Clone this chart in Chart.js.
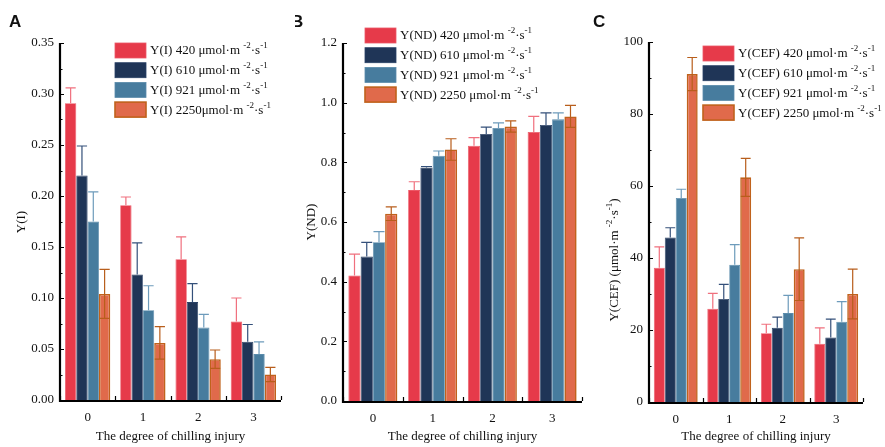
<!DOCTYPE html>
<html>
<head>
<meta charset="utf-8">
<script src="https://cdn.jsdelivr.net/npm/chart.js@4.4.1/dist/chart.umd.min.js"></script>
<style>
    body { margin: 0; background: #fff; width: 885px; height: 447px; position: relative; overflow: hidden; }
    .panel { position: absolute; top: 0; height: 447px; }
</style>
</head>
<body>
<div class="panel" style="left:0;width:295px"><canvas id="chartA" width="295" height="447"></canvas></div>
<div class="panel" style="left:295px;width:295px"><canvas id="chartB" width="295" height="447"></canvas></div>
<div class="panel" style="left:590px;width:295px"><canvas id="chartC" width="295" height="447"></canvas></div>
<script>
// ============================================
// Data
// ============================================
const categories = ['0', '1', '2', '3'];
const lightLevels = ['420', '610', '921', '2250'];

// Panel A - Y(I)
const yiMean420 = [0.291, 0.191, 0.138, 0.077];
const yiMean610 = [0.220, 0.123, 0.096, 0.057];
const yiMean921 = [0.175, 0.088, 0.071, 0.045];
const yiMean2250 = [0.104, 0.056, 0.040, 0.025];
const yiErr420 = [0.015, 0.008, 0.022, 0.023];
const yiErr610 = [0.029, 0.031, 0.018, 0.017];
const yiErr921 = [0.029, 0.024, 0.013, 0.012];
const yiErr2250 = [0.024, 0.016, 0.009, 0.007];
const yiTicks = [0, 0.05, 0.10, 0.15, 0.20, 0.25, 0.30, 0.35];

// Panel B - Y(ND)
const yndMean420 = [0.421, 0.707, 0.856, 0.902];
const yndMean610 = [0.484, 0.783, 0.895, 0.925];
const yndMean921 = [0.532, 0.822, 0.915, 0.944];
const yndMean2250 = [0.628, 0.843, 0.920, 0.954];
const yndErr420 = [0.071, 0.028, 0.027, 0.052];
const yndErr610 = [0.048, 0.003, 0.023, 0.041];
const yndErr921 = [0.036, 0.016, 0.017, 0.022];
const yndErr2250 = [0.023, 0.036, 0.019, 0.037];
const yndTicks = [0, 0.2, 0.4, 0.6, 0.8, 1.0, 1.2];

// Panel C - Y(CEF)
const ycefMean420 = [37.3, 25.9, 19.1, 16.2];
const ycefMean610 = [45.7, 28.6, 20.6, 17.9];
const ycefMean921 = [56.7, 38.1, 24.7, 22.3];
const ycefMean2250 = [91.1, 62.4, 36.9, 30.0];
const ycefErr420 = [5.8, 4.3, 2.5, 4.4];
const ycefErr610 = [2.7, 4.1, 3.0, 5.1];
const ycefErr921 = [2.4, 5.6, 4.9, 5.6];
const ycefErr2250 = [4.6, 5.3, 8.7, 6.9];
const ycefTicks = [0, 20, 40, 60, 80, 100];

// Legend texts (superscripts are drawn separately)
const legendA = ['Y(I) 420 \u03bcmol\u00b7m ', 'Y(I) 610 \u03bcmol\u00b7m ', 'Y(I) 921 \u03bcmol\u00b7m ', 'Y(I) 2250\u03bcmol\u00b7m '];
const legendB = ['Y(ND) 420 \u03bcmol\u00b7m ', 'Y(ND) 610 \u03bcmol\u00b7m ', 'Y(ND) 921 \u03bcmol\u00b7m ', 'Y(ND) 2250 \u03bcmol\u00b7m '];
const legendC = ['Y(CEF) 420 \u03bcmol\u00b7m ', 'Y(CEF) 610 \u03bcmol\u00b7m ', 'Y(CEF) 921 \u03bcmol\u00b7m ', 'Y(CEF) 2250 \u03bcmol\u00b7m '];

// ============================================
// Styles
// ============================================
const fillColors = ['#e63a4a', '#1f3557', '#477c9e', '#e06a4b'];
const edgeColors = ['#ec5866', '#2a4266', '#5a8bab', '#c0621c'];
const edgeWidths = [0.8, 0.8, 0.8, 1.6];
const errColors = ['#f0707e', '#34507a', '#6d9bbb', '#b85e1c'];
const serif = 'Liberation Serif';
const textColor = '#111';

function drawRich(ctx, parts, x, y, size) {
    // parts: [text, sup, text, sup, ...]
    let cx = x;
    parts.forEach((p, i) => {
        const isSup = i % 2 === 1;
        ctx.font = (isSup ? Math.round(size * 0.68) : size) + 'px "' + serif + '"';
        ctx.fillText(p, cx, isSup ? y - size * 0.38 : y);
        cx += ctx.measureText(p).width;
    });
    return cx - x;
}

function richWidth(ctx, parts, size) {
    let w = 0;
    parts.forEach((p, i) => {
        const isSup = i % 2 === 1;
        ctx.font = (isSup ? Math.round(size * 0.68) : size) + 'px "' + serif + '"';
        w += ctx.measureText(p).width;
    });
    return w;
}

// Error bars drawn through the y scale
const errorBarPlugin = {
    id: 'errorBars',
    afterDatasetsDraw(chart) {
        const ctx = chart.ctx;
        const yScale = chart.scales.y;
        chart.data.datasets.forEach((ds, i) => {
            const meta = chart.getDatasetMeta(i);
            meta.data.forEach((bar, j) => {
                const v = ds.data[j];
                const e = ds.errors[j];
                const yTop = yScale.getPixelForValue(v + e);
                const yLow = yScale.getPixelForValue(v - e);
                const half = bar.width * 0.45;
                ctx.save();
                ctx.strokeStyle = ds.errorColor;
                ctx.lineWidth = 1.2;
                ctx.beginPath();
                ctx.moveTo(bar.x, ds.errorBoth ? yLow : bar.y);
                ctx.lineTo(bar.x, yTop);
                ctx.moveTo(bar.x - half, yTop);
                ctx.lineTo(bar.x + half, yTop);
                if (ds.errorBoth) {
                    ctx.moveTo(bar.x - half, yLow);
                    ctx.lineTo(bar.x + half, yLow);
                }
                ctx.stroke();
                ctx.restore();
            });
        });
    }
};

// Axes lines, inward ticks, titles, panel letter, legend
const decoPlugin = {
    id: 'deco',
    afterDraw(chart, args, opts) {
        const ctx = chart.ctx;
        const area = chart.chartArea;
        const yScale = chart.scales.y;
        const xScale = chart.scales.x;
        ctx.save();
        ctx.strokeStyle = '#000';
        ctx.lineWidth = 1.2;
        // y ticks (major + minor), inward
        const vals = yScale.ticks.map(t => t.value);
        ctx.beginPath();
        vals.forEach((v, k) => {
            const py = Math.round(yScale.getPixelForValue(v)) + 0.5;
            ctx.moveTo(area.left, py); ctx.lineTo(area.left + 4, py);
            if (k < vals.length - 1) {
                const pm = Math.round(yScale.getPixelForValue((v + vals[k + 1]) / 2)) + 0.5;
                ctx.moveTo(area.left, pm); ctx.lineTo(area.left + 2.5, pm);
            }
        });
        // x ticks at category boundaries
        for (let k = 0; k <= categories.length; k++) {
            const px = Math.round(xScale.getPixelForValue(k - 0.5)) + 0.5;
            ctx.moveTo(px, area.bottom); ctx.lineTo(px, area.bottom - 4);
        }
        ctx.stroke();
        // axis lines
        ctx.lineWidth = 2.2;
        ctx.beginPath();
        ctx.moveTo(area.left, area.top);
        ctx.lineTo(area.left, area.bottom + 1);
        ctx.lineTo(area.right, area.bottom + 1);
        ctx.stroke();

        ctx.fillStyle = textColor;
        ctx.textBaseline = 'middle';
        // x title
        ctx.textAlign = 'center';
        ctx.font = '13px "' + serif + '"';
        ctx.fillText('The degree of chilling injury', (area.left + area.right) / 2, 437);
        // y title (rotated)
        ctx.save();
        ctx.translate(opts.yTitleX, opts.yTitleY);
        ctx.rotate(-Math.PI / 2);
        ctx.textAlign = 'left';
        const w = richWidth(ctx, opts.yTitle, 13);
        drawRich(ctx, opts.yTitle, -w / 2, 0, 13);
        ctx.restore();
        // panel letter
        ctx.textAlign = 'left';
        ctx.font = 'bold 17px "Liberation Sans"';
        ctx.fillText(opts.letter, opts.letterX, 22);
        // legend
        chart.data.datasets.forEach((ds, i) => {
            const top = opts.legendY + i * opts.legendStep;
            ctx.fillStyle = ds.backgroundColor;
            ctx.fillRect(opts.legendX, top, 31, 15);
            ctx.strokeStyle = ds.borderColor;
            ctx.lineWidth = ds.borderWidth;
            ctx.strokeRect(opts.legendX, top, 31, 15);
            ctx.fillStyle = textColor;
            drawRich(ctx, [opts.legend[i], '-2', '\u00b7s', '-1'], opts.legendX + 35, top + 8, 13);
        });
        ctx.restore();
    }
};

function buildDatasets(means, errs) {
    return means.map((m, i) => ({
        label: lightLevels[i],
        data: m,
        errors: errs[i],
        backgroundColor: fillColors[i],
        borderColor: edgeColors[i],
        borderWidth: edgeWidths[i],
        errorColor: errColors[i],
        errorBoth: i === 3,
        categoryPercentage: 0.82,
        barPercentage: 1.0
    }));
}

function makeChart(id, means, errs, ticks, fmt, geo, deco) {
    const ctx = document.getElementById(id).getContext('2d');
    return new Chart(ctx, {
        type: 'bar',
        data: { labels: categories, datasets: buildDatasets(means, errs) },
        options: {
            responsive: false,
            animation: false,
            devicePixelRatio: 1,
            layout: { padding: { top: geo.top, right: geo.right, left: 0, bottom: 0 } },
            plugins: { legend: { display: false }, tooltip: { enabled: false }, deco: deco },
            scales: {
                x: {
                    grid: { display: false, drawTicks: false },
                    border: { display: false },
                    ticks: { color: textColor, padding: 10, font: { family: serif, size: 13 } },
                    afterFit(scale) { scale.height = geo.xHeight; }
                },
                y: {
                    min: ticks[0],
                    max: ticks[ticks.length - 1],
                    grid: { display: false, drawTicks: false },
                    border: { display: false },
                    afterBuildTicks(scale) { scale.ticks = ticks.map(v => ({ value: v })); },
                    ticks: {
                        color: textColor, padding: 6,
                        font: { family: serif, size: 13 },
                        callback: v => fmt(v)
                    },
                    afterFit(scale) { scale.width = geo.yWidth; }
                }
            }
        },
        plugins: [errorBarPlugin, decoPlugin]
    });
}

makeChart('chartA',
    [yiMean420, yiMean610, yiMean921, yiMean2250],
    [yiErr420, yiErr610, yiErr921, yiErr2250],
    yiTicks, v => v.toFixed(2),
    { top: 43, right: 14, xHeight: 47, yWidth: 60 },
    { letter: 'A', letterX: 9, yTitle: ['Y(I)'], yTitleX: 22, yTitleY: 222,
      legend: legendA, legendX: 115, legendY: 43, legendStep: 19.7 });

makeChart('chartB',
    [yndMean420, yndMean610, yndMean921, yndMean2250],
    [yndErr420, yndErr610, yndErr921, yndErr2250],
    yndTicks, v => v.toFixed(1),
    { top: 43, right: 8, xHeight: 46, yWidth: 48 },
    { letter: 'B', letterX: -4, yTitle: ['Y(ND)'], yTitleX: 17, yTitleY: 222,
      legend: legendB, legendX: 70, legendY: 28, legendStep: 19.7 });

makeChart('chartC',
    [ycefMean420, ycefMean610, ycefMean921, ycefMean2250],
    [ycefErr420, ycefErr610, ycefErr921, ycefErr2250],
    ycefTicks, v => String(v),
    { top: 42, right: 22, xHeight: 45, yWidth: 59 },
    { letter: 'C', letterX: 3, yTitle: ['Y(CEF) (\u03bcmol\u00b7m ', '-2', '\u00b7s', '-1', ')'], yTitleX: 25, yTitleY: 260,
      legend: legendC, legendX: 113, legendY: 46, legendStep: 19.7 });
</script>
</body>
</html>
